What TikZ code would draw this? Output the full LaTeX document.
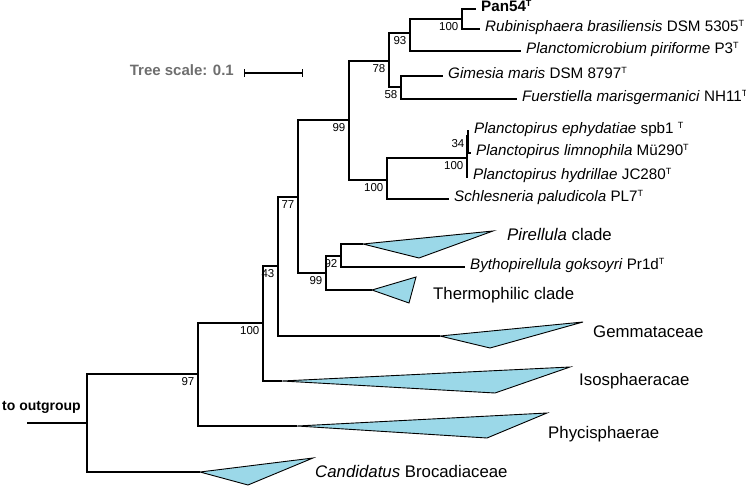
\documentclass[tikz,border=0pt]{standalone}
\usepackage{fontspec}
\setmainfont{Liberation Sans}
\usepackage{tikz}
\definecolor{cladeblue}{RGB}{155,216,232}
\definecolor{scalegray}{RGB}{110,110,110}
\newcommand{\typeT}{{\fontsize{9}{9}\selectfont\raisebox{0.5em}{T}}}

\begin{document}
\begin{tikzpicture}[x=1pt, y=-1pt,
  branch/.style={every edge/.style={draw, line width=1.3pt, to path={|- (\tikztotarget)}}},
  clade/.style={draw, line width=0.9pt, fill=cladeblue},
  bs/.style={anchor=north east, inner sep=1pt, xshift=-2.5pt, yshift=-2.5pt, font=\fontsize{11.5}{13}\selectfont},
  lab/.style={anchor=west, inner sep=0pt, text height=0.66em, text depth=0.24em},
  leaf/.style={lab, xshift=5pt, font=\fontsize{15.2}{18}\selectfont},
  group/.style={lab, font=\fontsize{16.8}{20}\selectfont}]
\useasboundingbox (0,0) rectangle (746,486);
% inner nodes
\coordinate (out) at (27,423);
\coordinate (root) at (87,423);
\coordinate (b97) at (198,374);
\coordinate (b100a) at (263,323);
\coordinate (b43) at (278,266);
\coordinate (b77) at (298,197);
\coordinate (b99a) at (349,120);
\coordinate (b78) at (389,61);
\coordinate (b93) at (410,33);
\coordinate (b100b) at (462,19);
\coordinate (b58) at (401,87);
\coordinate (b100c) at (387,180);
\coordinate (b100d) at (467,158);
\coordinate (b34) at (468,136);
\coordinate (b99b) at (326,273);
\coordinate (b92) at (341,256);
% leaves
\coordinate (pan) at (476,9);
\coordinate (rubi) at (480,29);
\coordinate (plmi) at (521,51);
\coordinate (gime) at (443,76);
\coordinate (fuer) at (517,99);
\coordinate (ephy) at (469,131);
\coordinate (limn) at (471,153);
\coordinate (hydr) at (468,177);
\coordinate (schl) at (449,199);
\coordinate (byth) at (465,267);
% collapsed clades
\coordinate (pire) at (363,244);
\coordinate (ther) at (372,290);
\coordinate (gemm) at (440,336);
\coordinate (isos) at (282,381);
\coordinate (phyc) at (297,426);
\coordinate (broc) at (200,472);

\path[branch]
(out) edge (root)
(root) edge (b97) edge (broc)
(b97) edge (b100a) edge (phyc)
(b100a) edge (b43) edge (isos)
(b43) edge (b77) edge (gemm)
(b77) edge (b99a) edge (b99b)
(b99a) edge (b78) edge (b100c)
(b78) edge (b93) edge (b58)
(b93) edge (b100b) edge (plmi)
(b100b) edge (pan) edge (rubi)
(b58) edge (gime) edge (fuer)
(b100c) edge (b100d) edge (schl)
(b100d) edge (b34) edge (hydr)
(b34) edge (ephy) edge (limn)
(b99b) edge (b92) edge (ther)
(b92) edge (pire) edge (byth);

\draw[clade] (pire) -- (493,231) -- (419,258) -- cycle;
\draw[clade] (ther) -- (416,277) -- (409,303) -- cycle;
\draw[clade] (gemm) -- (583,322) -- (490,348) -- cycle;
\draw[clade] (isos) -- (570,367) -- (495,393) -- cycle;
\draw[clade] (phyc) -- (547,413) -- (487,438) -- cycle;
\draw[clade] (broc) -- (313,458) -- (248,485) -- cycle;

\node[bs] (l-b97) at (b97) {97};
\node[bs] (l-b100a) at (b100a) {100};
\node[bs] (l-b43) at (b43) {43};
\node[bs] (l-b77) at (b77) {77};
\node[bs] (l-b99a) at (b99a) {99};
\node[bs] (l-b78) at (b78) {78};
\node[bs] (l-b93) at (b93) {93};
\node[bs] (l-b100b) at (b100b) {100};
\node[bs] (l-b58) at (b58) {58};
\node[bs] (l-b100c) at (b100c) {100};
\node[bs] (l-b100d) at (b100d) {100};
\node[bs] (l-b34) at (b34) {34};
\node[bs] (l-b99b) at (b99b) {99};
\node[bs] (l-b92) at (b92) {92};

\node[leaf] (t-pan) at (pan) {\textbf{Pan54\typeT}};
\node[leaf] (t-rubi) at (rubi) {\textit{Rubinisphaera brasiliensis} DSM 5305\typeT};
\node[leaf] (t-plmi) at (plmi) {\textit{Planctomicrobium piriforme} P3\typeT};
\node[leaf] (t-gime) at (gime) {\textit{Gimesia maris} DSM 8797\typeT};
\node[leaf] (t-fuer) at (fuer) {\textit{Fuerstiella marisgermanici} NH11\typeT};
\node[leaf] (t-ephy) at (ephy) {\textit{Planctopirus ephydatiae} spb1 \typeT};
\node[leaf] (t-limn) at (limn) {\textit{Planctopirus limnophila} Mü290\typeT};
\node[leaf] (t-hydr) at (hydr) {\textit{Planctopirus hydrillae} JC280\typeT};
\node[leaf] (t-schl) at (schl) {\textit{Schlesneria paludicola} PL7\typeT};
\node[leaf] (t-byth) at (byth) {\textit{Bythopirellula goksoyri} Pr1d\typeT};

\node[group] (t-pire) at (507,238) {\textit{Pirellula} clade};
\node[group] (t-ther) at (433,297) {Thermophilic clade};
\node[group] (t-gemm) at (593,335) {Gemmataceae};
\node[group] (t-isos) at (579,383) {Isosphaeracae};
\node[group] (t-phyc) at (548,436) {Phycisphaerae};
\node[group] (t-broc) at (315,475) {\textit{Candidatus} Brocadiaceae};

\node[lab, font=\fontsize{14}{17}\bfseries\selectfont] (t-out) at (2,408) {to outgroup};
\node[lab, anchor=east, font=\fontsize{15}{18}\bfseries\selectfont, text=scalegray] (t-scale) at (234,73) {Tree scale: 0.1};
\coordinate (s0) at (244,73);
\coordinate (s1) at (303,73);
\draw[|-|, line width=1.2pt] (s0) -- (s1);
\end{tikzpicture}
\end{document}
